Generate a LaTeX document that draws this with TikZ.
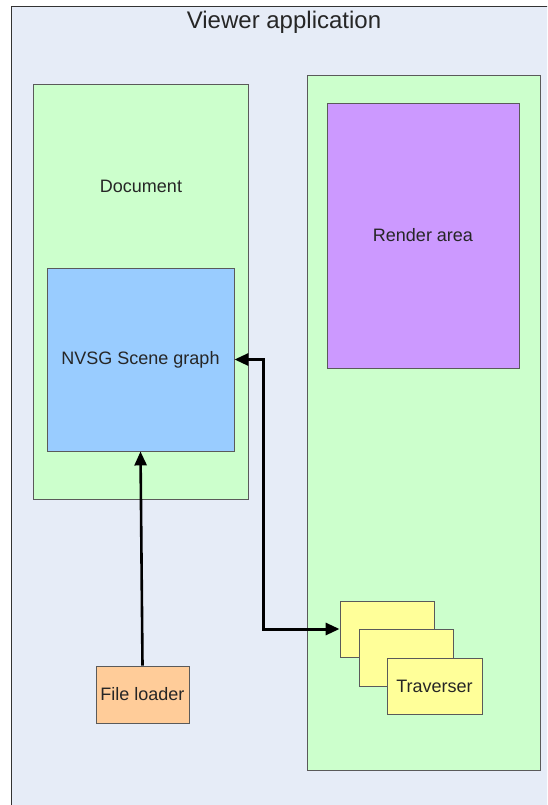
\documentclass[tikz,border=0pt]{standalone}
\usepackage{fontspec}
\setmainfont{Liberation Sans}
\usetikzlibrary{arrows.meta}
\definecolor{appbg}{HTML}{E6ECF7}
\definecolor{panelgreen}{HTML}{CCFFCC}
\definecolor{renderpurple}{HTML}{CC99FF}
\definecolor{graphblue}{HTML}{99CCFF}
\definecolor{loaderorange}{HTML}{FFCC99}
\definecolor{travyellow}{HTML}{FFFF99}
\definecolor{edgegray}{HTML}{5A5A5A}
\begin{document}
\begin{tikzpicture}[x=1pt,y=-1pt,
  box/.style={draw=edgegray, line width=0.9pt, inner sep=0pt,
    font=\fontsize{18}{20}\selectfont, text=black!85},
  label/.style={inner sep=0pt, font=\fontsize{18}{20}\selectfont, text=black!85},
  flow/.style={line width=2.6pt, -{Triangle[length=14pt,width=12pt]}},
  twoway/.style={line width=3pt, {Triangle[length=14pt,width=12pt]}-{Triangle[length=14pt,width=12pt]}}]
\useasboundingbox (0,0) rectangle (547,805);
\clip (0,0) rectangle (547,805);

% application frame
\path[fill=white] (0,0) rectangle (547,805);
\draw[fill=appbg, line width=1pt, draw=black!80] (11,7) rectangle (570,830);
\node[inner sep=0pt, font=\fontsize{24}{28}\selectfont, text=black!85] (title) at (284,22) {Viewer application};

% document side
\node[box, fill=panelgreen, minimum width=215pt, minimum height=415pt] (doc) at (140.5,291.5) {};
\node[label] (doclabel) at (141,186) {Document};
\node[box, fill=graphblue, minimum width=187pt, minimum height=183pt] (nvsg) at (140.5,359.5) {NVSG Scene graph};

% viewer side
\node[box, fill=panelgreen, minimum width=233pt, minimum height=695pt] (view) at (423.5,422.5) {};
\node[box, fill=renderpurple, minimum width=192pt, minimum height=265pt] (render) at (423,235.5) {Render area};

% stacked traversers
\node[box, fill=travyellow, minimum width=94pt, minimum height=56pt] (trav1) at (387,629) {};
\node[box, fill=travyellow, minimum width=94pt, minimum height=57pt] (trav2) at (406,657.5) {};
\node[box, fill=travyellow, minimum width=95pt, minimum height=56pt] (trav3) at (434.5,686) {Traverser};

% loader
\node[box, fill=loaderorange, minimum width=93pt, minimum height=57pt] (loader) at (142.5,694.5) {File loader};

% connectors
\coordinate (bendtop) at (263,359.5);
\coordinate (bendbot) at (263,629);
\draw[flow] (loader.north) -- (nvsg.south);
\draw[twoway] (nvsg.east) -- (bendtop) -- (bendbot) -- (trav1.west);
\end{tikzpicture}
\end{document}
